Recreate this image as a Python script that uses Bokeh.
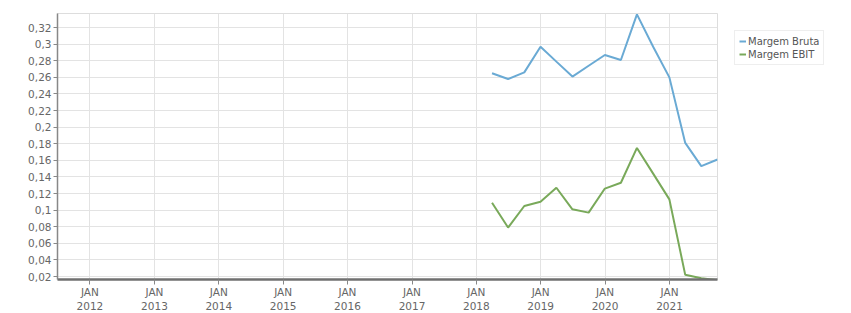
import pandas as pd
from bokeh.plotting import figure
from bokeh.models import (FixedTicker, CustomJSTickFormatter, Range1d, Legend, LegendItem,
                          ColumnDataSource)
from bokeh.embed import file_html
from bokeh.resources import INLINE

quarters = ["2018-03-31", "2018-06-30", "2018-09-30", "2018-12-31",
            "2019-03-31", "2019-06-30", "2019-09-30", "2019-12-31",
            "2020-03-31", "2020-06-30", "2020-09-30", "2020-12-31",
            "2021-03-31", "2021-06-30", "2021-09-30"]
margem_bruta = [0.265, 0.258, 0.266, 0.297, 0.279, 0.261, 0.274, 0.287,
                0.281, 0.336, 0.297, 0.260, 0.181, 0.153, 0.161]
margem_ebit = [0.109, 0.079, 0.105, 0.110, 0.127, 0.101, 0.097, 0.126,
               0.133, 0.175, 0.144, 0.113, 0.022, 0.018, 0.0155]
years = list(range(2012, 2022))
y_ticks = [round(0.02 * i, 2) for i in range(1, 17)]

dates = pd.to_datetime(quarters)
src = ColumnDataSource(dict(x=dates, bruta=margem_bruta, ebit=margem_ebit))

p = figure(frame_width=660, frame_height=266, output_backend="svg", toolbar_location=None,
           x_axis_type="datetime",
           x_range=Range1d(pd.Timestamp("2011-07-01"), pd.Timestamp("2021-09-30")),
           y_range=Range1d(0.0164, 0.337),
           min_border_left=57, min_border_right=0, min_border_top=13,
           min_border_bottom=34)
p.background_fill_color = "white"
p.border_fill_color = "white"
p.outline_line_color = "#dddddd"

r1 = p.line("x", "bruta", source=src, line_color="#6aaad4", line_width=2)
r2 = p.line("x", "ebit", source=src, line_color="#79a95a", line_width=2)

xt = [pd.Timestamp(f"{y}-01-01").value / 1e6 for y in years]
p.xaxis.ticker = FixedTicker(ticks=xt)
p.xaxis.formatter = CustomJSTickFormatter(
    code="return 'JAN\\n' + new Date(tick).getUTCFullYear();")
p.yaxis.ticker = FixedTicker(ticks=y_ticks)
p.yaxis.formatter = CustomJSTickFormatter(
    code="var s = tick.toFixed(2).replace(/0+$/, '').replace(/\\.$/, ''); return s.replace('.', ',');")

for ax in (p.xaxis, p.yaxis):
    ax.major_label_text_font = "DejaVu Sans"
    ax.major_label_text_font_size = "10.5px"
    ax.major_label_text_color = "#666666"
    ax.minor_tick_line_color = None
    ax.major_tick_in = 0

p.xaxis.axis_line_color = "#707070"
p.xaxis.axis_line_width = 2.5
p.xaxis.major_tick_line_color = "#888888"
p.xaxis.major_tick_out = 5
p.xaxis.major_label_standoff = 1
p.yaxis.axis_line_color = "#888888"
p.yaxis.axis_line_width = 1.5
p.yaxis.major_tick_line_color = "#888888"
p.yaxis.major_tick_out = 4
p.yaxis.major_label_standoff = 2

p.xgrid.grid_line_color = "#e3e3e3"
p.ygrid.grid_line_color = "#e3e3e3"

legend = Legend(items=[LegendItem(label="Margem Bruta", renderers=[r1]),
                       LegendItem(label="Margem EBIT", renderers=[r2])],
                location="top_left")
legend.label_text_font = "DejaVu Sans"
legend.label_text_font_size = "10px"
legend.label_text_color = "#555555"
legend.glyph_width = 7
legend.glyph_height = 12
legend.label_height = 12
legend.label_standoff = 2
legend.spacing = 1
legend.padding = 4
legend.margin = 17
legend.border_line_color = "#dddddd"
legend.background_fill_color = "white"
p.add_layout(legend, "right")

open("out.html", "w").write(file_html(p, INLINE))
